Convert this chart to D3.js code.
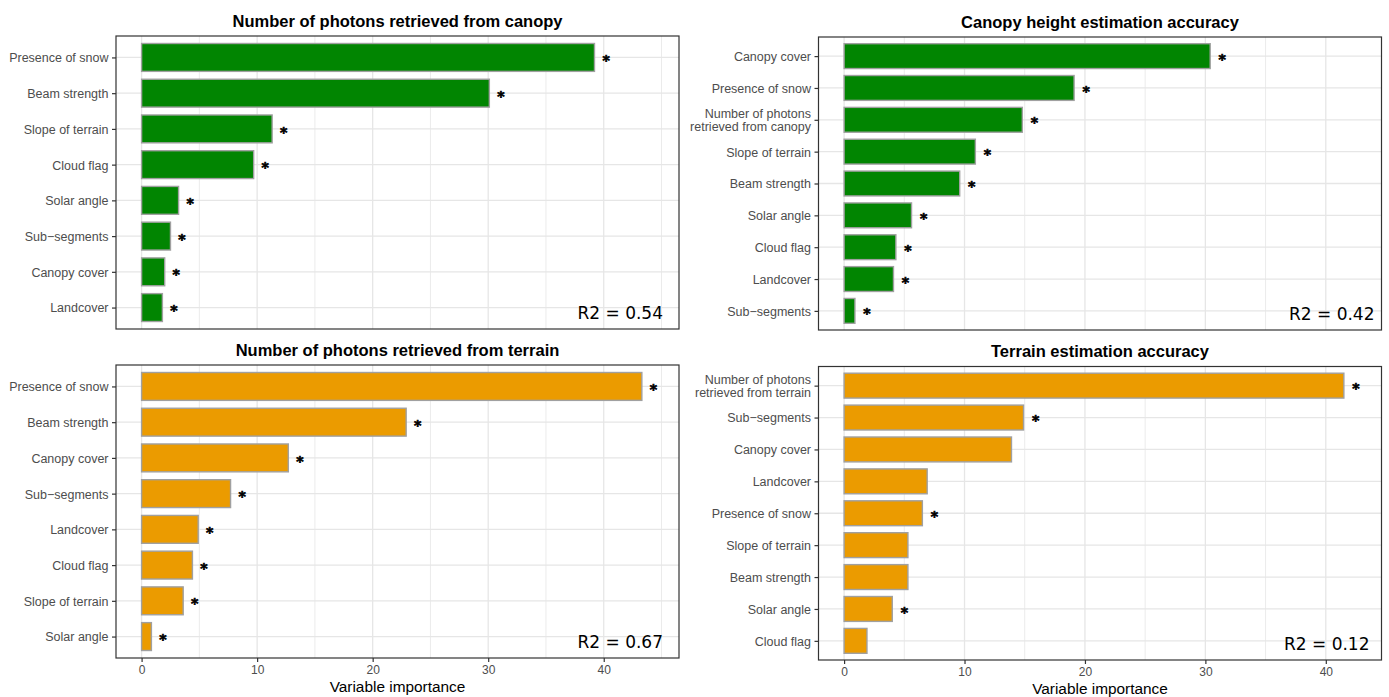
<!DOCTYPE html>
<html>
<head>
<meta charset="utf-8">
<script src="https://cdn.jsdelivr.net/npm/d3@7/dist/d3.min.js"></script>
<style>
  html, body { margin: 0; padding: 0; background: #fff; }
  svg { display: block; }
</style>
</head>
<body>
<svg id="chart" width="1389" height="697"></svg>
<script>
// Random-forest variable importance for four ICESat-2 response variables.

// Number of photons retrieved from canopy
const canopyPhotonVars = ["Presence of snow", "Beam strength", "Slope of terrain", "Cloud flag",
  "Solar angle", "Sub\u2212segments", "Canopy cover", "Landcover"];
const canopyPhotonImp = [39.2, 30.1, 11.3, 9.7, 3.2, 2.5, 2.0, 1.8];
const canopyPhotonSig = [true, true, true, true, true, true, true, true];

// Canopy height estimation accuracy
const canopyHeightVars = ["Canopy cover", "Presence of snow", "Number of photons\nretrieved from canopy",
  "Slope of terrain", "Beam strength", "Solar angle", "Cloud flag", "Landcover", "Sub\u2212segments"];
const canopyHeightImp = [30.4, 19.1, 14.8, 10.9, 9.6, 5.6, 4.3, 4.1, 0.9];
const canopyHeightSig = [true, true, true, true, true, true, true, true, true];

// Number of photons retrieved from terrain
const terrainPhotonVars = ["Presence of snow", "Beam strength", "Canopy cover", "Sub\u2212segments",
  "Landcover", "Cloud flag", "Slope of terrain", "Solar angle"];
const terrainPhotonImp = [43.3, 22.9, 12.7, 7.7, 4.9, 4.4, 3.6, 0.85];
const terrainPhotonSig = [true, true, true, true, true, true, true, true];

// Terrain estimation accuracy
const terrainAccVars = ["Number of photons\nretrieved from terrain", "Sub\u2212segments", "Canopy cover",
  "Landcover", "Presence of snow", "Slope of terrain", "Beam strength", "Solar angle", "Cloud flag"];
const terrainAccImp = [41.5, 14.9, 13.9, 6.9, 6.5, 5.3, 5.3, 4.0, 1.9];
const terrainAccSig = [true, true, false, false, true, false, false, true, false];

const panelTitles = ["Number of photons retrieved from canopy", "Canopy height estimation accuracy",
  "Number of photons retrieved from terrain", "Terrain estimation accuracy"];
const r2Values = [0.54, 0.42, 0.67, 0.12];
const majorTicks = [0, 10, 20, 30, 40];
const minorTicks = [5, 15, 25, 35, 45];
const xTitle = "Variable importance";

// ---- layout & style ----
const GREEN = "#018501", ORANGE = "#EB9B00";
const STAR_OFFSET = 1.0;   // asterisk sits one unit past the bar end
const panels = [
  { vars: canopyPhotonVars, imp: canopyPhotonImp, sig: canopyPhotonSig, fill: GREEN, col: 0,
    x0: 116, x1: 679, y0: 36, y1: 329, xaxis: false, r2Inset: 16 },
  { vars: canopyHeightVars, imp: canopyHeightImp, sig: canopyHeightSig, fill: GREEN, col: 1,
    x0: 818.5, x1: 1381.5, y0: 37, y1: 330, xaxis: false, r2Inset: 7 },
  { vars: terrainPhotonVars, imp: terrainPhotonImp, sig: terrainPhotonSig, fill: ORANGE, col: 0,
    x0: 116, x1: 679, y0: 365, y1: 658, xaxis: true, r2Inset: 16 },
  { vars: terrainAccVars, imp: terrainAccImp, sig: terrainAccSig, fill: ORANGE, col: 1,
    x0: 818.5, x1: 1381.5, y0: 366.5, y1: 660, xaxis: true, r2Inset: 12 }
];
panels.forEach((p, i) => { p.title = panelTitles[i]; p.r2 = r2Values[i]; });

// shared x scale within each column, 5% expansion around [0, max extent]
const colMax = [0, 1].map(c => d3.max(panels.filter(p => p.col === c),
  p => d3.max(p.imp, (v, i) => p.sig[i] ? v + STAR_OFFSET : v)));

const svg = d3.select("#chart");
const sansFont = "'Liberation Sans', Arial, sans-serif";

panels.forEach(p => {
  const m = colMax[p.col];
  const x = d3.scaleLinear().domain([-0.05 * m, 1.05 * m]).range([p.x0, p.x1]);
  const y = d3.scalePoint().domain(p.vars).range([p.y0, p.y1]).padding(0.6);
  const barH = y.step() * 0.78;
  const [dLo, dHi] = x.domain();
  const g = svg.append("g");

  // background
  g.append("rect").attr("x", p.x0).attr("y", p.y0)
    .attr("width", p.x1 - p.x0).attr("height", p.y1 - p.y0).attr("fill", "#fff");

  // grid
  g.selectAll(".minor").data(minorTicks.filter(t => t > dLo && t < dHi)).join("line")
    .attr("x1", d => x(d)).attr("x2", d => x(d)).attr("y1", p.y0).attr("y2", p.y1)
    .attr("stroke", "#EBEBEB").attr("stroke-width", 1);
  g.selectAll(".major").data(majorTicks.filter(t => t > dLo && t < dHi)).join("line")
    .attr("x1", d => x(d)).attr("x2", d => x(d)).attr("y1", p.y0).attr("y2", p.y1)
    .attr("stroke", "#E6E6E6").attr("stroke-width", 1.3);
  g.selectAll(".hgrid").data(p.vars).join("line")
    .attr("x1", p.x0).attr("x2", p.x1).attr("y1", d => y(d)).attr("y2", d => y(d))
    .attr("stroke", "#E6E6E6").attr("stroke-width", 1.3);

  // bars
  g.selectAll(".bar").data(p.vars).join("rect")
    .attr("x", x(0))
    .attr("y", d => y(d) - barH / 2)
    .attr("width", (d, i) => x(p.imp[i]) - x(0))
    .attr("height", barH)
    .attr("fill", p.fill)
    .attr("stroke", "#A0A0A0").attr("stroke-width", 1.4);

  // significance asterisks
  g.selectAll(".star").data(p.vars.filter((d, i) => p.sig[i])).join("text")
    .attr("x", d => x(p.imp[p.vars.indexOf(d)] + STAR_OFFSET))
    .attr("y", d => y(d) + 7.6)
    .attr("text-anchor", "middle")
    .attr("font-family", "'DejaVu Sans', sans-serif").attr("font-weight", "bold").attr("font-size", 14)
    .attr("fill", "#000").attr("stroke", "#000").attr("stroke-width", 0.7).text("*");

  // panel border
  g.append("rect").attr("x", p.x0).attr("y", p.y0)
    .attr("width", p.x1 - p.x0).attr("height", p.y1 - p.y0)
    .attr("fill", "none").attr("stroke", "#333").attr("stroke-width", 1.2);

  // y axis
  const yAxis = g.append("g").attr("transform", `translate(${p.x0},0)`)
    .call(d3.axisLeft(y).tickSize(4).tickPadding(3).tickFormat(""));
  yAxis.select(".domain").remove();
  yAxis.selectAll(".tick line").attr("stroke", "#333").attr("stroke-width", 1.2);
  yAxis.selectAll(".tick").each(function (d) {
    const lines = d.split("\n");
    const t = d3.select(this).append("text")
      .attr("x", -7.5).attr("text-anchor", "end")
      .attr("font-family", sansFont).attr("font-size", 12.5).attr("fill", "#4D4D4D");
    lines.forEach((ln, k) => {
      t.append("tspan").attr("x", -7.5)
        .attr("y", (k - (lines.length - 1) / 2) * 13)
        .attr("dy", "0.35em").text(ln);
    });
  });

  // x axis (bottom row only)
  if (p.xaxis) {
    const xAxis = g.append("g").attr("transform", `translate(0,${p.y1})`)
      .call(d3.axisBottom(x).tickValues(majorTicks).tickSize(4).tickPadding(3));
    xAxis.select(".domain").remove();
    xAxis.selectAll(".tick line").attr("stroke", "#333").attr("stroke-width", 1.2);
    xAxis.selectAll(".tick text").attr("font-family", sansFont).attr("font-size", 12)
      .attr("fill", "#4D4D4D");
    g.append("text").attr("x", (p.x0 + p.x1) / 2).attr("y", p.y1 + 33.5)
      .attr("text-anchor", "middle").attr("font-family", sansFont)
      .attr("font-size", 15.4).attr("fill", "#000").text(xTitle);
  }

  // title
  g.append("text").attr("x", (p.x0 + p.x1) / 2).attr("y", p.y0 - 9.5)
    .attr("text-anchor", "middle").attr("font-family", sansFont)
    .attr("font-weight", "bold").attr("font-size", 16.5).attr("fill", "#000").text(p.title);

  // R² annotation
  g.append("text").attr("x", p.x1 - p.r2Inset).attr("y", p.y1 - 10.5)
    .attr("text-anchor", "end").attr("font-family", "'DejaVu Sans', sans-serif")
    .attr("font-size", 17).attr("fill", "#000").text(`R2 = ${p.r2.toFixed(2)}`);
});
</script>
</body>
</html>
